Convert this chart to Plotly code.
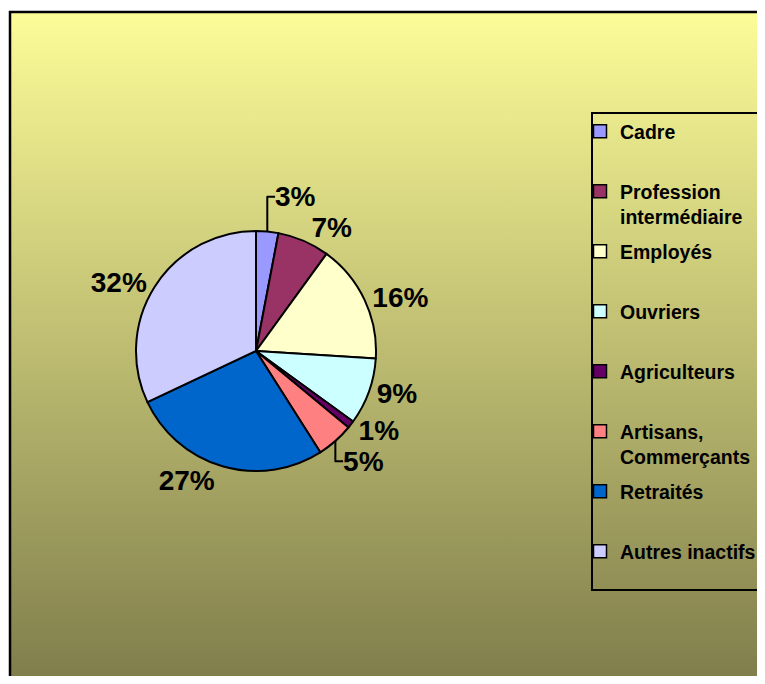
import base64
import plotly.graph_objects as go

# ---- data ----
categories = ["Cadre", "Profession intermédiaire", "Employés", "Ouvriers",
              "Agriculteurs", "Artisans, Commerçants", "Retraités", "Autres inactifs"]
legend_labels = ["Cadre<br>\u00a0", "Profession<br>intermédiaire", "Employés<br>\u00a0",
                 "Ouvriers<br>\u00a0", "Agriculteurs<br>\u00a0", "Artisans,<br>Commerçants",
                 "Retraités<br>\u00a0", "Autres inactifs<br>\u00a0"]
values = [3, 7, 16, 9, 1, 5, 27, 32]
colors = ["#9999FF", "#993366", "#FFFFCC", "#CCFFFF", "#660066", "#FF8080", "#0066CC", "#CCCCFF"]

# the page body has an 8px margin: the figure sits at (8, 8) in the window,
# so it is sized to keep the whole page at 765x684
OFF = 8
W, H = 765 - 2 * OFF, 684 - 2 * OFF
FONT = "Arial, Liberation Sans, sans-serif"
LEG_FS = 19.5


def px(x):
    """window x pixel -> paper fraction"""
    return (x - OFF) / W


def py(y):
    """window y pixel -> paper fraction"""
    return 1 - (y - OFF) / H


fig = go.Figure()

fig.add_trace(go.Pie(
    labels=categories, values=values, sort=False, direction="clockwise", rotation=0,
    marker=dict(colors=colors, line=dict(color="black", width=2)),
    textposition="outside", texttemplate="%{percent:.0%}",
    outsidetextfont=dict(family=FONT, size=28, color="black", weight="bold"),
    domain=dict(x=[px(136), px(376)], y=[py(471), py(231)]),
    showlegend=False, hoverinfo="label+percent",
))

# legend entries (one per category)
for lab, col in zip(legend_labels, colors):
    fig.add_trace(go.Scatter(
        x=[None], y=[None], mode="markers", name=lab, legendgroup=lab,
        marker=dict(symbol="square", size=13, color=col, line=dict(color="black", width=1.5)),
    ))

svg = ("<svg xmlns='http://www.w3.org/2000/svg' width='10' height='100' viewBox='0 0 10 100' "
       "preserveAspectRatio='none'><defs><linearGradient id='g' x1='0' y1='0' x2='0' y2='1'>"
       "<stop offset='0' stop-color='#FCFC98'/><stop offset='1' stop-color='#7A7848'/>"
       "</linearGradient></defs><rect width='10' height='100' fill='url(#g)'/></svg>")
uri = "data:image/svg+xml;base64," + base64.b64encode(svg.encode()).decode()

# each legend item: 2 lines of 1.3*font + 3px; gap brings the pitch to 60px
item_h = 2 * 1.3 * LEG_FS + 3
group_gap = 60 - item_h

fig.update_layout(
    width=W, height=H,
    margin=dict(l=0, r=0, t=0, b=0, autoexpand=False),
    paper_bgcolor="white", plot_bgcolor="rgba(0,0,0,0)",
    xaxis=dict(visible=False), yaxis=dict(visible=False),
    images=[dict(source=uri, xref="paper", yref="paper", x=px(10), y=py(12),
                 sizex=1.2, sizey=py(12) + 0.05, xanchor="left", yanchor="top",
                 sizing="stretch", layer="below")],
    shapes=[
        dict(type="rect", xref="paper", yref="paper", x0=px(10), y0=py(12), x1=1.05, y1=-0.05,
             line=dict(color="black", width=2.5), fillcolor="rgba(0,0,0,0)", layer="above"),
        dict(type="rect", xref="paper", yref="paper", x0=px(592), y0=py(113), x1=1.1, y1=py(590),
             line=dict(color="black", width=2), fillcolor="rgba(0,0,0,0)", layer="above"),
    ],
    legend=dict(x=px(580), y=py(112), xanchor="left", yanchor="top",
                bgcolor="rgba(0,0,0,0)", borderwidth=0, valign="top",
                tracegroupgap=group_gap, itemclick=False, itemdoubleclick=False,
                font=dict(family=FONT, size=LEG_FS, color="black", weight="bold")),
    showlegend=True,
)

fig.write_html("out.html")
